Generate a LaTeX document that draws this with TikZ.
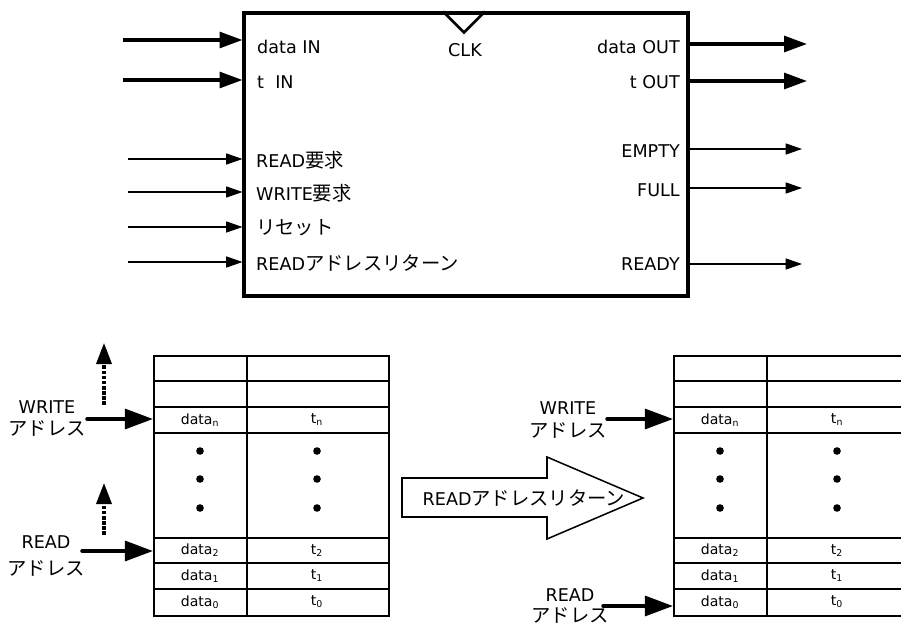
\documentclass[tikz,border=0pt]{standalone}
\usepackage{fontspec}
\setmainfont{DejaVu Sans}
\newfontfamily\jp[Scale=1.1]{Noto Sans CJK JP}
\usetikzlibrary{arrows.meta,positioning,calc}

\begin{document}
\begin{tikzpicture}[x=0.03cm, y=-0.03cm,
  lbl/.style={font=\fontsize{15}{18}\selectfont, inner sep=0pt},
  cell/.style={font=\fontsize{12}{14}\selectfont, inner sep=0pt},
  busarr/.style={line width=2.8pt, -{Triangle[length=19.5pt, width=13.5pt]}},
  addrarr/.style={line width=3pt, line cap=round, -{Triangle[length=24pt, width=17pt]}},
  sigarr/.style={line width=0.9pt, -{Triangle[length=14pt, width=9.5pt]}},
  movearr/.style={line width=2.6pt, dash pattern=on 3pt off 1.4pt, -{Triangle[length=18pt, width=13pt]}},
  tblline/.style={line width=1.7pt},
  dotmark/.style={circle, fill=black, inner sep=0pt, minimum size=6.5pt},
]
\useasboundingbox (0,0) rectangle (901,626);
\clip (0,0) rectangle (901,626);

% FIFO block with clock input
\node[draw, line width=2.6pt, inner sep=0pt, minimum width=13.32cm, minimum height=8.49cm] (fifo) at (466,154.5) {};
\draw[line width=2.3pt] ($(fifo.north)+(-23,0)$) -- ++(21,21) -- ++(21,-21);
\node[lbl] (clk) at (465,50) {CLK};

% bus inputs / outputs
\foreach \nm/\py/\ly/\txt in {dIn/40/47/data IN, tIn/80/82/{t\ \ IN}} {
  \coordinate (\nm) at (123,\py);
  \draw[busarr] (\nm) -- (\nm -| fifo.west);
  \node[lbl, anchor=west] (\nm-lbl) at (257,\ly) {\txt};
}
\foreach \nm/\py/\ly/\txt in {dOut/44/47/data OUT, tOut/81/82/t OUT} {
  \coordinate (\nm) at (807,\py);
  \draw[busarr] (\nm -| fifo.east) -- (\nm);
  \node[lbl, anchor=east] (\nm-lbl) at (680,\ly) {\txt};
}

% control signals
\foreach \nm/\py/\txt in {rdReq/159/READ{\jp 要求}, wrReq/192/WRITE{\jp 要求}, rst/227/{\jp リセット}, rdRet/262/READ{\jp アドレスリターン}} {
  \coordinate (\nm) at (128,\py);
  \draw[sigarr] (\nm) -- (\nm -| fifo.west);
  \node[lbl, anchor=west] (\nm-lbl) at (256,\py+1) {\txt};
}
\foreach \nm/\py/\ly/\txt in {empty/149/151/EMPTY, full/188/190/FULL, ready/264/264/READY} {
  \coordinate (\nm) at (802,\py);
  \draw[sigarr] (\nm -| fifo.east) -- (\nm);
  \node[lbl, anchor=east] (\nm-lbl) at (680,\ly) {\txt};
}

% memory tables, before (L) and after (R) the return
\foreach \tn/\tx in {L/153, R/673} {
  \node[draw, tblline, inner sep=0pt, minimum width=7.05cm, minimum height=7.8cm, anchor=north west] (\tn-tbl) at (\tx,355) {};
  \draw[tblline] (\tx+94,355) -- (\tx+94,615);
  \foreach \ry in {381,407,433,538,563,589}
    \draw[tblline] (\tx,\ry) -- (\tx+235,\ry);
  \foreach \i/\cy in {n/420, 2/550.5, 1/576, 0/602} {
    \node[cell] (\tn-d\i) at (\tx+47,\cy) {data\textsubscript{\i}};
    \node[cell] (\tn-t\i) at (\tx+164,\cy) {t\textsubscript{\i}};
  }
  \foreach \dy in {451,479,508} {
    \node[dotmark] (\tn-p\dy) at (\tx+47,\dy) {};
    \node[dotmark] (\tn-q\dy) at (\tx+164,\dy) {};
  }
}

% address pointers
\coordinate (wrL) at (87,419);
\coordinate (rdL) at (82,551);
\coordinate (wrR) at (607,419);
\coordinate (rdR) at (603,606);
\draw[addrarr] (wrL) -- (wrL -| L-tbl.west);
\draw[addrarr] (rdL) -- (rdL -| L-tbl.west);
\draw[addrarr] (wrR) -- (wrR -| R-tbl.west);
\draw[addrarr] (rdR) -- (rdR -| R-tbl.west);
\node[lbl, align=center] (wrL-lbl) at (47,418.5) {WRITE\\{\jp アドレス}};
\node[lbl, align=center] (rdL-lbl) at (46,556) {READ\\[5pt]{\jp アドレス}};
\node[lbl, align=center] (wrR-lbl) at (568,420) {WRITE\\[2pt]{\jp アドレス}};
\node[lbl, align=center] (rdR-lbl) at (570,606) {READ\\{\jp アドレス}};

% pointer movement
\coordinate (wrMv0) at (104,405);
\coordinate (wrMv1) at (104,343);
\coordinate (rdMv0) at (104,535);
\coordinate (rdMv1) at (104,483);
\draw[movearr] (wrMv0) -- (wrMv1);
\draw[movearr] (rdMv0) -- (rdMv1);

% big arrow
\draw[line width=1.3pt] (402,478) -- (547,478) -- (547,457) -- (643,498) -- (547,539) -- (547,517) -- (402,517) -- cycle;
\node[lbl] (ret) at (524,498) {READ{\jp アドレスリターン}};
\end{tikzpicture}
\end{document}
